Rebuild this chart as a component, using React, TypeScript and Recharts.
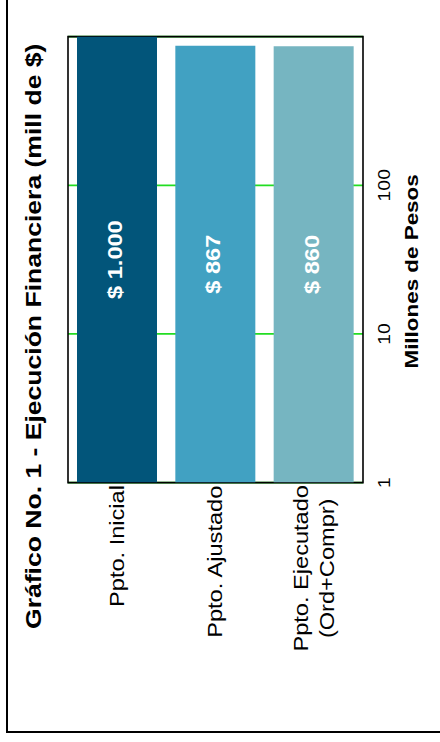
import { BarChart, Bar, XAxis, YAxis, CartesianGrid, Cell, LabelList, ReferenceArea } from 'recharts'

// datos del grafico
const categorias = ['Ppto. Inicial', 'Ppto. Ajustado', 'Ppto. Ejecutado\n(Ord+Compr)']
const valores = [1000, 867, 860]
const etiquetas = ['$ 1.000', '$ 867', '$ 860']
const colores = ['#02557A', '#41A1C2', '#76B5C1']
const ticksValor = [1, 10, 100]

const datos = categorias.map((c, i) => ({ categoria: c, valor: valores[i], etiqueta: etiquetas[i] }))

// el grafico se dibuja acostado y luego se gira -90deg
const W = 629
const H = 440
const S = 1.18
const FUENTE = '"Liberation Sans", Arial, sans-serif'

let ctx: CanvasRenderingContext2D | null = null
function medir(texto: string, font: string) {
  if (!ctx) ctx = document.createElement('canvas').getContext('2d')
  if (!ctx) return texto.length * 10
  ctx.font = font
  return ctx.measureText(texto).width
}

function TickCategoria(props: any) {
  const { x, y, payload } = props
  const lineas = String(payload.value).split('\n')
  const max = Math.max(...lineas.map((l) => medir(l, `20px ${FUENTE}`)))
  const cx = x - max / 2
  const paso = 26
  const y0 = y + 7 - ((lineas.length - 1) * paso) / 2
  return (
    <text textAnchor="middle" fontSize={20} fontFamily={FUENTE} fill="#000">
      {lineas.map((l, i) => (
        <tspan key={i} x={cx} y={y0 + i * paso}>
          {l}
        </tspan>
      ))}
    </text>
  )
}

function TickValor(props: any) {
  const { x, y, payload } = props
  return (
    <text x={x} y={y + 27} textAnchor="middle" fontSize={16.5} fontFamily={FUENTE} fill="#000">
      {payload.value}
    </text>
  )
}

function EtiquetaBarra(props: any) {
  const { x, y, width, height, value } = props
  return (
    <text
      x={x + width / 2}
      y={y + height / 2 + 5}
      textAnchor="middle"
      fontSize={20}
      fontWeight="bold"
      fontFamily={FUENTE}
      fill="#fff"
    >
      {value}
    </text>
  )
}

export default function App() {
  return (
    <div style={{ position: 'absolute', left: 0, top: 0, width: 440, height: 742, overflow: 'hidden', background: '#fff' }}>
      <div style={{ position: 'absolute', left: 6, top: 0, width: 2, height: 733, background: '#000' }} />
      <div style={{ position: 'absolute', left: 6, top: 731, width: 434, height: 2, background: '#000' }} />
      <div
        style={{
          position: 'absolute',
          left: 0,
          top: 0,
          width: W,
          height: H,
          transformOrigin: '0 0',
          transform: `translateY(${S * W}px) rotate(-90deg) scaleX(${S})`,
        }}
      >
        <BarChart
          width={W}
          height={H}
          data={datos}
          layout="vertical"
          margin={{ top: 68, right: 31, bottom: 27, left: 20 }}
          barCategoryGap={0}
        >
          <CartesianGrid horizontal={false} stroke="#22dd22" strokeWidth={1.5} />
          <XAxis
            type="number"
            scale="log"
            domain={[1, 1000]}
            ticks={ticksValor}
            allowDataOverflow
            axisLine={false}
            tickLine={false}
            tickSize={0}
            tickMargin={0}
            height={50}
            tick={<TickValor />}
          />
          <YAxis
            type="category"
            dataKey="categoria"
            width={200}
            axisLine={false}
            tickLine={false}
            tickSize={0}
            tickMargin={2}
            tick={<TickCategoria />}
          />
          <Bar dataKey="valor" barSize={80} isAnimationActive={false}>
            {datos.map((d, i) => (
              <Cell key={d.categoria} fill={colores[i]} />
            ))}
            <LabelList dataKey="etiqueta" content={<EtiquetaBarra />} />
          </Bar>
          <ReferenceArea x1={1} x2={1000} fill="none" stroke="#000" strokeWidth={1.6} ifOverflow="visible" />
        </BarChart>
        <svg width={W} height={H} style={{ position: 'absolute', left: 0, top: 0, pointerEvents: 'none' }}>
          <text x={344} y={41} textAnchor="middle" fontSize={22.5} fontWeight="bold" fontFamily={FUENTE} fill="#000">
            Gráfico No. 1 - Ejecución Financiera (mill de $)
          </text>
          <text x={399} y={418} textAnchor="middle" fontSize={19} fontWeight="bold" fontFamily={FUENTE} fill="#000">
            Millones de Pesos
          </text>
        </svg>
      </div>
    </div>
  )
}
